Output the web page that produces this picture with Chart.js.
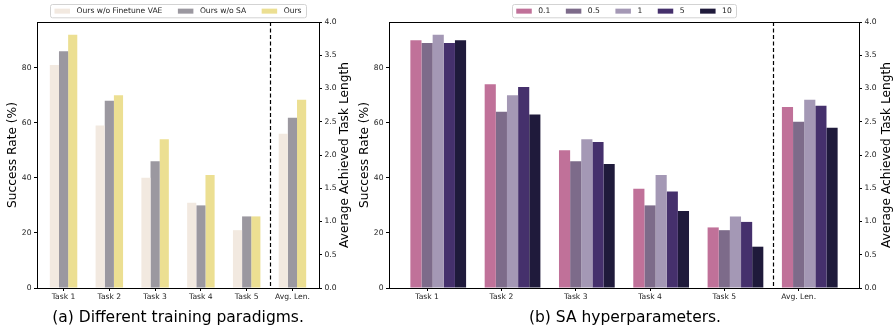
<!DOCTYPE html>
<html>
<head>
<meta charset="utf-8">
<script src="https://cdn.jsdelivr.net/npm/chart.js@4.4.0/dist/chart.umd.min.js"></script>
<style>
    html, body { margin: 0; padding: 0; background: #fff; }
    #wrap { position: relative; width: 894px; height: 326px; }
    canvas { position: absolute; top: 0; }
    #paradigmChart { left: 0; }
    #saChart { left: 356px; }
</style>
</head>
<body>
<div id="wrap">
    <canvas id="paradigmChart" width="356" height="326"></canvas>
    <canvas id="saChart" width="538" height="326"></canvas>
</div>
<script>
// categories (last one is read on the right axis)
const categories = ['Task 1', 'Task 2', 'Task 3', 'Task 4', 'Task 5', 'Avg. Len.'];

// (a) training paradigms: success rate per task (%)
const paradigmNames = ['Ours w/o Finetune VAE', 'Ours w/o SA', 'Ours'];
const noVaeRate = [81, 59, 40, 31, 21];
const noSaRate = [86, 68, 46, 30, 26];
const oursRate = [92, 70, 54, 41, 26];
const paradigmAvgLen = [2.32, 2.56, 2.83];

// (b) SA hyperparameters
const saNames = ['0.1', '0.5', '1', '5', '10'];
const sa01Rate = [90, 74, 50, 36, 22];
const sa05Rate = [89, 64, 46, 30, 21];
const sa1Rate = [92, 70, 54, 41, 26];
const sa5Rate = [89, 73, 53, 35, 24];
const sa10Rate = [90, 63, 45, 28, 15];
const saAvgLen = [2.72, 2.50, 2.83, 2.74, 2.41];

// tick labels
const rateTicks = [0, 20, 40, 60, 80];
const lenTicks = [0, 0.5, 1, 1.5, 2, 2.5, 3, 3.5, 4];

Chart.defaults.font.family = "'DejaVu Sans', sans-serif";
Chart.defaults.color = '#222';

// top spine + dashed separator before the Avg. Len. group
const framePlugin = {
    id: 'framePlugin',
    afterDatasetsDraw(chart, args, opts) {
        const { ctx, chartArea } = chart;
        ctx.save();
        ctx.strokeStyle = '#000';
        ctx.lineWidth = 1;
        ctx.beginPath();
        ctx.moveTo(chartArea.left, chartArea.top + 0.5);
        ctx.lineTo(chartArea.right, chartArea.top + 0.5);
        ctx.stroke();

        const x = Math.round(chart.scales.x.getPixelForValue(opts.sepAt)) + 0.5;
        ctx.lineWidth = 1.2;
        ctx.setLineDash([4, 2.5]);
        ctx.beginPath();
        ctx.moveTo(x, chartArea.top);
        ctx.lineTo(x, chartArea.bottom);
        ctx.stroke();
        ctx.restore();
    }
};

// right axis title, reading bottom to top like the left one
const rightTitlePlugin = {
    id: 'rightTitle',
    afterDraw(chart, args, opts) {
        const { ctx, chartArea } = chart;
        ctx.save();
        ctx.translate(chart.width - opts.inset, (chartArea.top + chartArea.bottom) / 2);
        ctx.rotate(-Math.PI / 2);
        ctx.font = "12.2px 'DejaVu Sans'";
        ctx.fillStyle = '#000';
        ctx.textAlign = 'center';
        ctx.textBaseline = 'middle';
        ctx.fillText(opts.text, 0, 0);
        ctx.restore();
    }
};

// framed legend centred over the plot area
const legendPlugin = {
    id: 'legendBox',
    afterDraw(chart) {
        const { ctx, chartArea } = chart;
        const items = chart.data.datasets.filter(d => d.yAxisID === 'y');
        const boxW = 15.5, boxH = 5, gap = 6.5, sep = 15.5, pad = 4.5;
        const top = 4, h = 13.3;
        ctx.save();
        ctx.font = "7.6px 'DejaVu Sans'";
        const widths = items.map(d => boxW + gap + ctx.measureText(d.label).width);
        const total = widths.reduce((a, b) => a + b, 0) + sep * (items.length - 1) + pad * 2;
        const x0 = (chartArea.left + chartArea.right) / 2 - total / 2;
        ctx.fillStyle = '#fff';
        ctx.strokeStyle = '#d3d3d3';
        ctx.lineWidth = 1;
        ctx.beginPath();
        ctx.roundRect(Math.round(x0) + 0.5, top + 0.5, Math.round(total), h, 2);
        ctx.fill();
        ctx.stroke();
        const cy = top + 0.5 + h / 2;
        let cx = x0 + pad;
        items.forEach((d, i) => {
            ctx.fillStyle = d.backgroundColor;
            ctx.fillRect(cx, cy - boxH / 2, boxW, boxH);
            ctx.fillStyle = '#222';
            ctx.textAlign = 'left';
            ctx.textBaseline = 'middle';
            ctx.fillText(d.label, cx + boxW + gap, cy);
            cx += widths[i] + sep;
        });
        ctx.restore();
    }
};

function buildChart(canvasId, cfg) {
    const avgIdx = categories.length - 1;
    const datasets = [];
    cfg.names.forEach((name, i) => {
        datasets.push({
            label: name,
            data: cfg.rates[i].map((v, k) => ({ x: k, y: v })),
            backgroundColor: cfg.colors[i],
            yAxisID: 'y',
            stack: 's' + i
        });
    });
    cfg.names.forEach((name, i) => {
        datasets.push({
            label: name,
            data: [{ x: avgIdx, y: cfg.avgLen[i] }],
            backgroundColor: cfg.colors[i],
            yAxisID: 'y1',
            stack: 's' + i
        });
    });

    const tickFont = { size: 7.6 };
    const axisGrid = { display: true, drawOnChartArea: false, drawTicks: true, tickLength: 3, color: '#000', offset: false };
    const axisBorder = { display: true, color: '#000', width: 1 };

    return new Chart(document.getElementById(canvasId), {
        type: 'bar',
        data: { datasets: datasets },
        options: {
            responsive: false,
            animation: false,
            layout: { padding: { top: 22, left: 0, right: 0, bottom: 0 } },
            datasets: {
                bar: { categoryPercentage: cfg.groupWidth, barPercentage: 1, borderWidth: 0 }
            },
            scales: {
                x: {
                    type: 'linear',
                    min: cfg.xMin,
                    max: cfg.xMax,
                    offset: false,
                    grid: axisGrid,
                    border: axisBorder,
                    ticks: {
                        font: tickFont, color: '#222', padding: 1, autoSkip: false, maxRotation: 0,
                        callback: (v, i) => categories[i]
                    },
                    afterBuildTicks: s => { s.ticks = categories.map((c, i) => ({ value: i - cfg.tickShift })); },
                    afterFit: s => { s.height = 18.5; }
                },
                y: {
                    type: 'linear',
                    position: 'left',
                    stacked: false,
                    min: 0,
                    max: 96.6,
                    grid: axisGrid,
                    border: axisBorder,
                    ticks: { font: tickFont, color: '#222', padding: 2.5 },
                    afterBuildTicks: s => { s.ticks = rateTicks.map(v => ({ value: v })); },
                    title: {
                        display: true, text: 'Success Rate (%)', color: '#000',
                        font: { size: 12.2 }, padding: { top: cfg.leftTitlePad, bottom: 0 }
                    },
                    afterFit: s => { s.width = cfg.leftW; }
                },
                y1: {
                    type: 'linear',
                    position: 'right',
                    stacked: false,
                    min: 0,
                    max: 4,
                    grid: axisGrid,
                    border: axisBorder,
                    ticks: { font: tickFont, color: '#222', padding: 2.5, callback: v => v.toFixed(1) },
                    afterBuildTicks: s => { s.ticks = lenTicks.map(v => ({ value: v })); },
                    afterFit: s => { s.width = cfg.rightW; }
                }
            },
            plugins: {
                legend: { display: false },
                tooltip: { enabled: false },
                title: {
                    display: true,
                    position: 'bottom',
                    text: cfg.caption,
                    color: '#000',
                    font: { size: 15.5, weight: 'normal', lineHeight: 1 },
                    padding: { top: 4, bottom: 0 }
                },
                framePlugin: { sepAt: 4.5 },
                rightTitle: { text: 'Average Achieved Task Length', inset: cfg.rightTitleInset }
            }
        },
        plugins: [framePlugin, rightTitlePlugin, legendPlugin]
    });
}

document.addEventListener('DOMContentLoaded', function() {
    // (a) 3 bars of 0.2 per group
    buildChart('paradigmChart', {
        names: paradigmNames,
        rates: [noVaeRate, noSaRate, oursRate],
        avgLen: paradigmAvgLen,
        colors: ['#f2e9e0', '#9b98a0', '#ecdf92'],
        groupWidth: 0.6,
        xMin: -0.58,
        xMax: 5.58,
        tickShift: 0,
        leftW: 37,
        rightW: 37,
        leftTitlePad: 5.2,
        rightTitleInset: 11,
        caption: '(a) Different training paradigms.'
    });

    // (b) 5 bars of 0.15 per group, tick sits under the 2nd bar
    buildChart('saChart', {
        names: saNames,
        rates: [sa01Rate, sa05Rate, sa1Rate, sa5Rate, sa10Rate],
        avgLen: saAvgLen,
        colors: ['#c07199', '#7d6b8a', '#a498b5', '#45306c', '#1f1a3b'],
        groupWidth: 0.75,
        xMin: -0.6625,
        xMax: 5.6625,
        tickShift: 0.15,
        leftW: 33,
        rightW: 35,
        leftTitlePad: 1.5,
        rightTitleInset: 7.4,
        caption: '(b) SA hyperparameters.'
    });
});
</script>
</body>
</html>
